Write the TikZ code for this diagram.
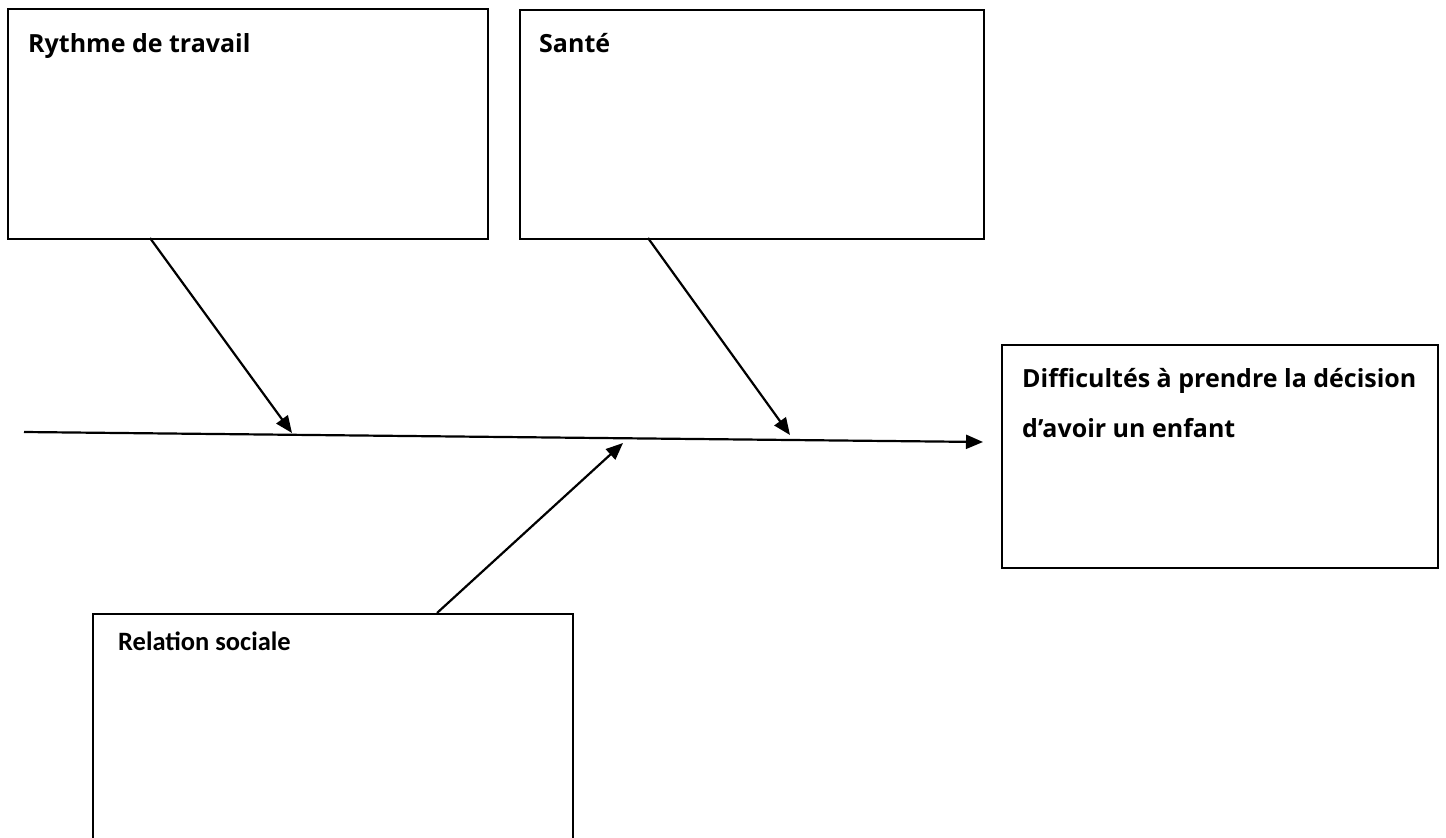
\documentclass[tikz,border=0pt]{standalone}
\usepackage{fontspec}
\setmainfont{Open Sans}
\newfontfamily\calibrifont{Carlito}
\usetikzlibrary{arrows.meta}
\begin{document}
\begin{tikzpicture}[x=1pt,y=-1pt,
  causebox/.style={draw=black,line width=2pt,rectangle,inner sep=0pt,anchor=north west},
  boxlabel/.style={anchor=base west,inner sep=0pt,font=\fontsize{25pt}{28pt}\selectfont\bfseries},
  smalllabel/.style={anchor=base west,inner sep=0pt,font=\calibrifont\fontsize{26.5pt}{30pt}\selectfont\bfseries},
  arr/.style={line width=2.2pt,-{Triangle[length=17pt,width=14pt]}}]
\useasboundingbox (0,0) rectangle (1446,838);
\clip (0,0) rectangle (1446,838);
% boxes
\node[causebox,minimum width=480pt,minimum height=230pt] (rythme) at (7,8) {};
\node[causebox,minimum width=464pt,minimum height=229pt] (sante) at (519,9) {};
\node[causebox,minimum width=436pt,minimum height=223pt] (effet) at (1001,344) {};
\node[causebox,minimum width=480pt,minimum height=260pt] (relation) at (92,613) {};
% labels
\node[boxlabel] (tRythme) at (28,52) {Rythme de travail};
\node[boxlabel] (tSante) at (539,52) {Santé};
\node[boxlabel] (tEffet1) at (1022,387) {Difficultés à prendre la décision};
\node[boxlabel] (tEffet2) at (1022,437) {d’avoir un enfant};
\node[smalllabel] (tRelation) at (118,650) {Relation sociale};
% spine
\coordinate (spineStart) at (24,432);
\coordinate (spineEnd) at (983,442);
\coordinate (hitR) at (292,433);
\coordinate (hitS) at (790,435);
\coordinate (hitRel) at (623,443);
\coordinate (fromR) at (150,238);
\coordinate (fromS) at (648,238);
\coordinate (fromRel) at (437,613);
\draw[arr] (spineStart) -- (spineEnd);
\draw[arr] (fromR) -- (hitR);
\draw[arr] (fromS) -- (hitS);
\draw[arr] (fromRel) -- (hitRel);
\end{tikzpicture}
\end{document}
